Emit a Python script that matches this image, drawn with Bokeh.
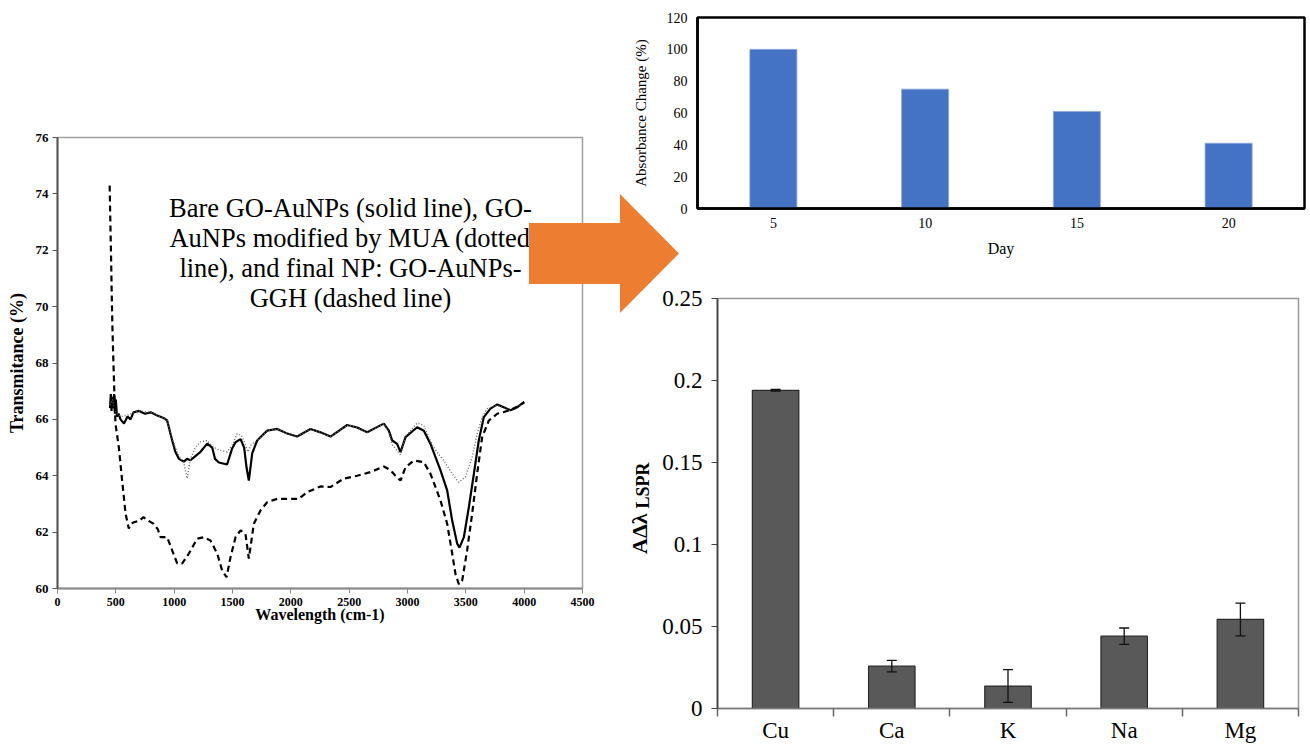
from bokeh.plotting import figure
from bokeh.layouts import row, column
from bokeh.models import (ColumnDataSource, Label, Whisker, TeeHead, Div,
                          FixedTicker, NumeralTickFormatter, Range1d)
from bokeh.embed import file_html
from bokeh.resources import INLINE

SERIF = "Liberation Serif"
ORANGE = "#ED7D31"

# ---------------- FTIR spectra (left panel) ----------------
wn_bare = [450, 457, 463, 470, 478, 485, 492, 500, 510, 523, 540, 570, 600, 626, 651, 700, 750, 800,
           850, 909, 940, 983, 1010, 1040, 1083, 1110, 1140, 1169, 1226, 1283, 1326, 1350, 1383, 1454,
           1497, 1526, 1569, 1600, 1620, 1640, 1669, 1711, 1797, 1883, 1969, 2054, 2169, 2254, 2340,
           2483, 2569, 2654, 2797, 2840, 2869, 2911, 2940, 2983, 3083, 3140, 3197, 3283, 3340, 3383,
           3426, 3446, 3483, 3526, 3569, 3611, 3654, 3711, 3769, 3826, 3883, 3940, 4000]
t_bare = [66.4, 66.9, 66.3, 66.8, 66.4, 66.9, 66.2, 66.7, 66.1, 66.2, 66.0, 65.85, 66.1, 66.0, 66.25,
          66.3, 66.2, 66.25, 66.15, 66.05, 65.96, 65.25, 64.85, 64.6, 64.5, 64.6, 64.55, 64.65, 64.85,
          65.14, 65.0, 64.6, 64.47, 64.4, 64.97, 65.19, 65.3, 65.0, 64.3, 63.83, 64.79, 65.25, 65.6,
          65.66, 65.5, 65.39, 65.66, 65.54, 65.39, 65.8, 65.71, 65.54, 65.85, 65.6, 65.25, 65.13,
          64.84, 65.37, 65.72, 65.6, 65.13, 64.19, 63.48, 62.41, 61.59, 61.45, 61.82, 62.89, 64.07,
          65.25, 66.08, 66.38, 66.53, 66.43, 66.32, 66.43, 66.62]

wn_mua = [450, 470, 490, 510, 540, 600, 700, 800, 909, 940, 983, 1040, 1080, 1111, 1140, 1180, 1226,
          1283, 1340, 1397, 1454, 1500, 1540, 1580, 1610, 1634, 1660, 1711, 1797, 1883, 1969, 2054,
          2169, 2254, 2340, 2483, 2569, 2654, 2797, 2840, 2869, 2900, 2940, 2983, 3083, 3140, 3200,
          3250, 3311, 3383, 3440, 3497, 3554, 3597, 3640, 3683, 3769, 3826, 3883, 3940, 4000]
t_mua = [66.5, 66.7, 66.3, 66.2, 66.1, 66.15, 66.3, 66.25, 66.05, 65.96, 65.3, 64.7, 64.5, 63.9, 64.6,
         65.0, 65.2, 65.25, 65.0, 64.9, 64.85, 65.1, 65.5, 65.4, 65.1, 64.85, 65.1, 65.25, 65.6,
         65.66, 65.5, 65.39, 65.66, 65.54, 65.39, 65.8, 65.71, 65.54, 65.85, 65.55, 65.1, 64.95,
         64.75, 65.4, 65.87, 65.79, 65.2, 64.85, 64.54, 64.07, 63.77, 63.96, 64.66, 65.49, 66.08,
         66.38, 66.5, 66.4, 66.3, 66.4, 66.6]

wn_ggh = [447, 455, 460, 464, 470, 478, 487, 497, 526, 554, 583, 611, 630, 654, 700, 737, 780, 823,
          860, 883, 940, 983, 1026, 1069, 1126, 1197, 1254, 1311, 1369, 1411, 1449, 1483, 1526, 1569,
          1611, 1640, 1683, 1740, 1797, 1883, 1969, 2069, 2140, 2254, 2340, 2454, 2569, 2683, 2797,
          2854, 2897, 2940, 2983, 3054, 3140, 3197, 3283, 3340, 3383, 3411, 3440, 3469, 3511, 3554,
          3597, 3640, 3697, 3769, 3826, 3883, 3940, 4000]
t_ggh = [74.3, 72.6, 71.6, 70.6, 69.4, 68.2, 67.0, 65.85, 65.0, 63.83, 62.66, 62.13, 62.3, 62.35,
         62.4, 62.53, 62.4, 62.3, 62.1, 61.82, 61.82, 61.35, 60.89, 60.89, 61.24, 61.77, 61.82, 61.7,
         61.24, 60.64, 60.4, 61.11, 61.82, 62.06, 61.94, 61.06, 62.3, 62.77, 63.06, 63.18, 63.18,
         63.18, 63.42, 63.62, 63.6, 63.9, 64.0, 64.13, 64.33, 64.2, 64.0, 63.83, 64.3, 64.54, 64.48,
         64.07, 63.12, 62.3, 61.24, 60.52, 60.15, 60.29, 61.35, 62.65, 64.07, 65.37, 65.96, 66.2,
         66.26, 66.34, 66.45, 66.6]

ftir_xticks = [0, 500, 1000, 1500, 2000, 2500, 3000, 3500, 4000, 4500]
ftir_yticks = [60, 62, 64, 66, 68, 70, 72, 74, 76]
note_lines = ["Bare GO-AuNPs (solid line), GO-",
              "AuNPs modified by MUA (dotted",
              "line), and final NP: GO-AuNPs-",
              "GGH (dashed line)"]

# ---------------- stability (top right) ----------------
days = ["5", "10", "15", "20"]
absorbance_change = [100, 75, 61, 41]
abs_yticks = [0, 20, 40, 60, 80, 100, 120]

# ---------------- selectivity (bottom right) ----------------
ions = ["Cu", "Ca", "K", "Na", "Mg"]
lspr_shift = [0.194, 0.0258, 0.0137, 0.0441, 0.0543]
lspr_err = [0.0005, 0.0035, 0.0100, 0.0050, 0.0100]
lspr_yticks = [0, 0.05, 0.1, 0.15, 0.2, 0.25]
lspr_ylabel = "AΔλ"
lspr_ylabel_sub = "LSPR"


def to_data(frame_px, frame_data, px, py):
    fx0, fx1, fy0, fy1 = frame_px
    x0, x1, y0, y1 = frame_data
    return (x0 + (px - fx0) / (fx1 - fx0) * (x1 - x0),
            y0 + (py - fy0) / (fy1 - fy0) * (y1 - y0))


def style_axis(ax, size, bold, color):
    ax.major_label_text_font = SERIF
    ax.major_label_text_font_size = size
    ax.major_label_text_font_style = "bold" if bold else "normal"
    ax.major_label_text_color = "black"
    ax.axis_label_text_font = SERIF
    ax.axis_label_text_color = "black"
    ax.minor_tick_line_color = None
    ax.axis_line_color = color
    ax.major_tick_line_color = color


# ---------- left: FTIR ----------
F1_PX = (57, 582, 137, 588)
F1_DATA = (0, 4500, 76, 60)
p1 = figure(width=620, height=746, x_range=Range1d(0, 4500), y_range=Range1d(60, 76),
            output_backend="svg", toolbar_location=None,
            min_border_left=57, min_border_right=38, min_border_top=137, min_border_bottom=158)
p1.frame_align = False
p1.xgrid.visible = False
p1.ygrid.visible = False
p1.outline_line_color = "#a0a0a0"
p1.outline_line_width = 1.5
p1.line(wn_bare, t_bare, line_color="black", line_width=2.2)
p1.line(wn_mua, t_mua, line_color="#666666", line_width=1.4, line_dash="1 2")
p1.line(wn_ggh, t_ggh, line_color="black", line_width=2.2, line_dash="6 4")
p1.xaxis.ticker = FixedTicker(ticks=ftir_xticks)
p1.yaxis.ticker = FixedTicker(ticks=ftir_yticks)
style_axis(p1.xaxis[0], "12px", True, "#888888")
style_axis(p1.yaxis[0], "13px", True, "#555555")
for ax in (p1.xaxis[0], p1.yaxis[0]):
    ax.axis_line_width = 2
    ax.major_tick_in = 0
    ax.major_tick_out = 5
    ax.major_label_standoff = 4
    ax.axis_label_text_font_style = "bold"
p1.xaxis.axis_label = "Wavelength (cm-1)"
p1.xaxis.axis_label_text_font_size = "16px"
p1.yaxis.axis_label = "Transmitance (%)"
p1.yaxis.axis_label_text_font_size = "18px"
p1.xaxis.axis_label_standoff = -3
p1.yaxis.axis_label_standoff = 6
for i, line in enumerate(note_lines):
    lx, ly = to_data(F1_PX, F1_DATA, 350, 207 + i * 30)
    p1.add_layout(Label(x=lx, y=ly, text=line, text_font=SERIF, text_font_size="26.5px",
                        text_align="center", text_baseline="middle", text_color="black"))

# ---------- top right: stability ----------
x_days = list(range(1, len(days) + 1))
p2 = figure(width=686, height=280, x_range=Range1d(0.5, 4.5), y_range=Range1d(0, 120),
            output_backend="svg", toolbar_location=None,
            min_border_left=77, min_border_right=2, min_border_top=17, min_border_bottom=72)
p2.frame_align = False
p2.xgrid.visible = False
p2.ygrid.visible = False
p2.vbar(x=x_days, top=absorbance_change, width=0.31, fill_color="#4472C4",
        line_color="#8FAADC", line_width=0.8)
p2.outline_line_color = "black"
p2.outline_line_width = 2.5
p2.xaxis.ticker = FixedTicker(ticks=x_days)
p2.xaxis.major_label_overrides = {x: d for x, d in zip(x_days, days)}
p2.yaxis.ticker = FixedTicker(ticks=abs_yticks)
style_axis(p2.xaxis[0], "14px", False, "black")
style_axis(p2.yaxis[0], "14px", False, "black")
for ax in (p2.xaxis[0], p2.yaxis[0]):
    ax.major_tick_out = 0
    ax.major_tick_in = 0
    ax.axis_line_width = 2.5
    ax.axis_label_text_font_style = "normal"
p2.xaxis.axis_label = "Day"
p2.xaxis.axis_label_text_font_size = "16px"
p2.xaxis.major_label_standoff = 9
p2.xaxis.axis_label_standoff = 9
p2.yaxis.axis_label = "Absorbance Change (%)"
p2.yaxis.axis_label_text_font_size = "15px"
p2.yaxis.major_label_standoff = 10
p2.yaxis.axis_label_standoff = 15

# ---------- bottom right: selectivity ----------
x_ions = list(range(1, len(ions) + 1))
p3 = figure(width=686, height=466, x_range=Range1d(0.5, 5.5), y_range=Range1d(0, 0.25),
            output_backend="svg", toolbar_location=None,
            min_border_left=97, min_border_right=8, min_border_top=18, min_border_bottom=38)
p3.frame_align = False
p3.xgrid.visible = False
p3.ygrid.visible = False
p3.outline_line_color = "#999999"
p3.outline_line_width = 1.5
p3.vbar(x=x_ions, top=lspr_shift, width=0.4, fill_color="#595959",
        line_color="#2a2a2a", line_width=1.2)
err_src = ColumnDataSource(dict(x=x_ions,
                                upper=[s + e for s, e in zip(lspr_shift, lspr_err)],
                                lower=[s - e for s, e in zip(lspr_shift, lspr_err)]))
p3.add_layout(Whisker(source=err_src, base="x", upper="upper", lower="lower",
                      line_color="#111111", line_width=1.3, level="overlay",
                      upper_head=TeeHead(size=10, line_color="#111111", line_width=1.3),
                      lower_head=TeeHead(size=10, line_color="#111111", line_width=1.3)))
p3.xaxis.ticker = FixedTicker(ticks=x_ions, minor_ticks=[i + 0.5 for i in range(len(ions) + 1)])
p3.xaxis.major_label_overrides = {x: n for x, n in zip(x_ions, ions)}
p3.yaxis.ticker = FixedTicker(ticks=lspr_yticks)
p3.yaxis.formatter = NumeralTickFormatter(format="0.[00]")
style_axis(p3.xaxis[0], "23px", False, "#777777")
style_axis(p3.yaxis[0], "23px", False, "#444444")
p3.xaxis.axis_line_width = 1.5
p3.yaxis.axis_line_width = 1.8
p3.xaxis.major_tick_out = 0
p3.xaxis.major_tick_in = 0
p3.xaxis.minor_tick_line_color = "#666666"
p3.xaxis.minor_tick_out = 8
p3.xaxis.minor_tick_in = 0
p3.xaxis.minor_tick_line_width = 1.5
p3.xaxis.major_label_standoff = 1
p3.yaxis.major_tick_out = 6
p3.yaxis.major_tick_in = 0
p3.yaxis.major_label_standoff = 9

# Overlays (absolute-positioned; content lands about 6px right / 4px down of left/top)
arrow_svg = ('<svg xmlns="http://www.w3.org/2000/svg" width="152" height="121">'
             '<polygon points="0,29 91,29 91,0 150,59.5 91,119 91,90 0,90" fill="%s"/></svg>' % ORANGE)
arrow_div = Div(text=arrow_svg, width=152, height=121,
                styles={"position": "absolute", "left": "524px", "top": "189px",
                        "z-index": "10", "pointer-events": "none"})

ylabel_svg = ('<svg xmlns="http://www.w3.org/2000/svg" width="44" height="112" style="overflow:visible">'
              '<text x="33" y="103" transform="rotate(-90 33 103)" '
              'style="font-family:\'Liberation Serif\',serif;font-weight:bold;font-size:22px;fill:black">%s'
              '<tspan dx="5" dy="2" style="font-size:18px">%s</tspan></text></svg>'
              % (lspr_ylabel, lspr_ylabel_sub))
ylabel_div = Div(text=ylabel_svg, width=44, height=112,
                 styles={"position": "absolute", "left": "609px", "top": "446px",
                         "z-index": "10", "pointer-events": "none"})

layout = row(p1, column(p2, p3), arrow_div, ylabel_div)
open("out.html", "w").write(file_html(layout, INLINE))
